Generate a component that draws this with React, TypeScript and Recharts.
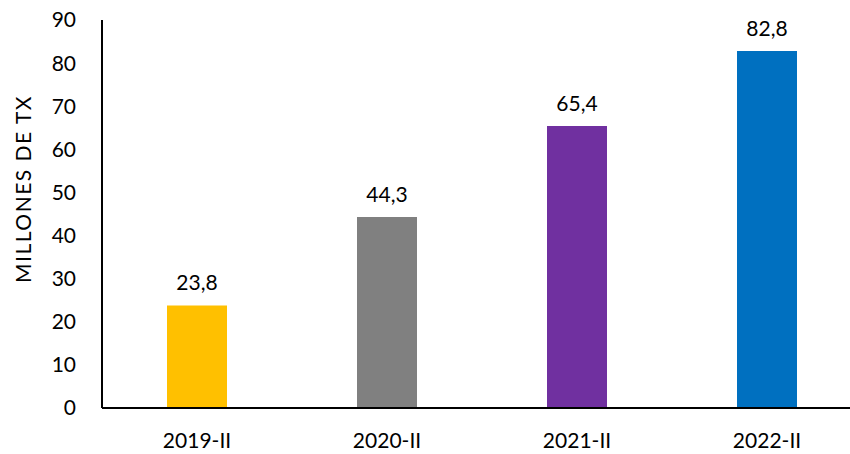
import { BarChart, Bar, XAxis, YAxis, Cell, LabelList, Label } from 'recharts'

const categories = ['2019-II', '2020-II', '2021-II', '2022-II']
const values = [23.8, 44.3, 65.4, 82.8]
const colors = ['#FFC000', '#808080', '#7030A0', '#0070C0']
const yTicks = [0, 10, 20, 30, 40, 50, 60, 70, 80, 90]

const data = categories.map((name, i) => ({ name, value: values[i] }))

const FONT = 'Lato, "Noto Sans", sans-serif'
const tickStyle = { fontSize: 21, fill: '#000', fontFamily: FONT }

// axis title, drawn rotated at the left edge
const YLabel = () => {
  const cx = 22
  const cy = 189
  return (
    <text x={cx} y={cy} transform={`rotate(-90 ${cx} ${cy})`} textAnchor="middle" dominantBaseline="central"
      style={{ fontSize: 21, fill: '#000', fontFamily: FONT, letterSpacing: 1.5 }}>
      MILLONES DE TX
    </text>
  )
}

export default function App() {
  return (
    <div style={{ position: 'absolute', left: 0, top: 0, width: 850, height: 454, overflow: 'hidden', background: '#fff' }}>
      <BarChart width={862} height={454} data={data} margin={{ top: 20, right: 0, bottom: 0, left: 0 }} barSize={60}>
        <XAxis dataKey="name" height={46} axisLine={{ stroke: '#000', strokeWidth: 2 }} tickLine={false}
          tick={tickStyle} tickMargin={19} />
        <YAxis width={102} domain={[0, 90]} ticks={yTicks} axisLine={{ stroke: '#000', strokeWidth: 2 }} tickLine={false}
          tick={tickStyle} tickMargin={20} interval={0}>
          <Label content={<YLabel />} />
        </YAxis>
        <Bar dataKey="value" isAnimationActive={false}>
          {data.map((d, i) => <Cell key={d.name} fill={colors[i]} />)}
          <LabelList dataKey="value" position="top" offset={15}
            formatter={(v: any) => String(v).replace('.', ',')}
            style={{ fontSize: 21, fill: '#000', fontFamily: FONT }} />
        </Bar>
      </BarChart>
    </div>
  )
}
